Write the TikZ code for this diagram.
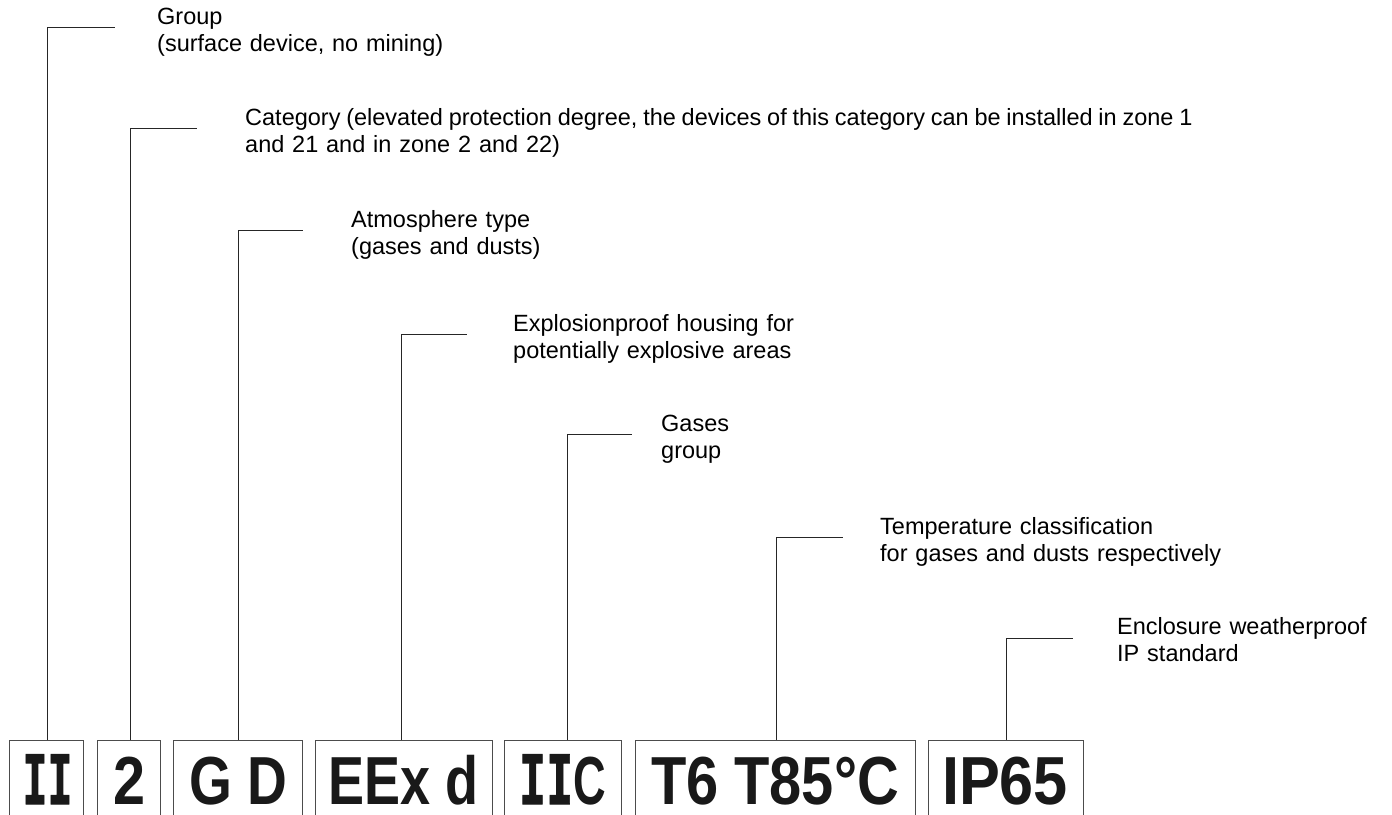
\documentclass[tikz,border=0pt]{standalone}
\usepackage{fontspec}
\usepackage{graphicx}
\setmainfont{Liberation Sans}
\newfontface\monob{DejaVu Sans Mono Bold}[FakeBold=1.5]
\tikzset{
  box/.style={draw=black!70, line width=1pt, minimum height=100pt, inner sep=0pt, anchor=north},
  lead/.style={draw=black!85, line width=1pt},
  lbl/.style={font=\fontsize{23.5}{27.5}\selectfont, anchor=base west, inner sep=0pt, text width=1100pt, align=left},
  big/.style={font=\fontsize{68}{68}\selectfont\bfseries, anchor=base, inner sep=0pt, text=black!90}
}
\begin{document}
\begin{tikzpicture}[x=1pt,y=-1pt]
\useasboundingbox (0,0) rectangle (1392,814);
% boxes
\node[box, minimum width=74pt]    (b1) at (46.3,739.5) {};
\node[box, minimum width=62.7pt]  (b2) at (128.7,739.5) {};
\node[box, minimum width=129.5pt] (b3) at (238,739.5) {};
\node[box, minimum width=177pt]   (b4) at (404.2,739.5) {};
\node[box, minimum width=117.7pt] (b5) at (562.9,739.5) {};
\node[box, minimum width=280pt]   (b6) at (775,739.5) {};
\node[box, minimum width=155.3pt] (b7) at (1005.7,739.5) {};
% box texts
\node[big] (t1) at (47.5,804) {\resizebox{50pt}{\height}{\monob II}};
\node[big] (t2) at (129,804) {\resizebox{32pt}{\height}{2}};
\node[big] (t3) at (238.5,804) {\resizebox{98pt}{\height}{G D}};
\node[big] (t4) at (403.5,804) {\resizebox{150pt}{\height}{EEx d}};
\node[big] (t5) at (562.5,804) {\resizebox{87pt}{\height}{{\monob II}C}};
\node[big] (t6) at (775,804) {\resizebox{248pt}{\height}{T6 T85°C}};
\node[big] (t7) at (1005,804) {\resizebox{126pt}{\height}{IP65}};
% leader corners
\coordinate (c1) at (47,27);    \coordinate (e1) at (115,27);
\coordinate (c2) at (130,128);  \coordinate (e2) at (197,128);
\coordinate (c3) at (238,230);  \coordinate (e3) at (303,230);
\coordinate (c4) at (401,334);  \coordinate (e4) at (467,334);
\coordinate (c5) at (567,434);  \coordinate (e5) at (632,434);
\coordinate (c6) at (776,537);  \coordinate (e6) at (843,537);
\coordinate (c7) at (1006,638); \coordinate (e7) at (1073,638);
\draw[lead] (b1.north -| c1) -- (c1) -- (e1);
\draw[lead] (b2.north -| c2) -- (c2) -- (e2);
\draw[lead] (b3.north -| c3) -- (c3) -- (e3);
\draw[lead] (b4.north -| c4) -- (c4) -- (e4);
\draw[lead] (b5.north -| c5) -- (c5) -- (e5);
\draw[lead] (b6.north -| c6) -- (c6) -- (e6);
\draw[lead] (b7.north -| c7) -- (c7) -- (e7);
% labels
\node[lbl] (l1) at (157,24) {Group\\(surface device, no mining)};
\node[lbl] (l2) at (245,125) {{\spaceskip=5.8pt Category (elevated protection degree, the devices of this category can be installed in zone 1}\\and 21 and in zone 2 and 22)};
\node[lbl] (l3) at (351,227) {Atmosphere type\\(gases and dusts)};
\node[lbl] (l4) at (513,331) {Explosionproof housing for\\potentially explosive areas};
\node[lbl] (l5) at (661,431) {Gases\\group};
\node[lbl] (l6) at (880,534) {Temperature classification\\for gases and dusts respectively};
\node[lbl] (l7) at (1117,634) {Enclosure weatherproof\\IP standard};
\end{tikzpicture}
\end{document}
